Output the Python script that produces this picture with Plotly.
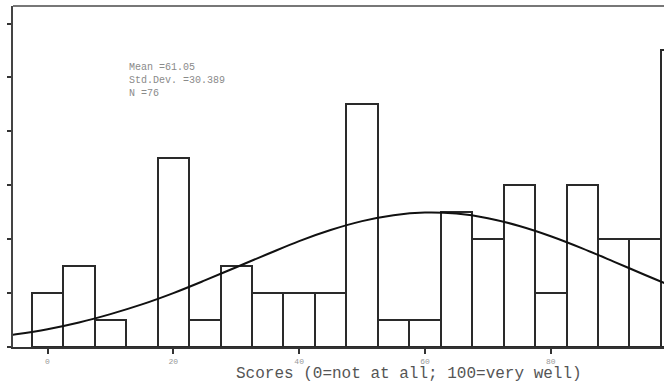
import plotly.graph_objects as go

# Histogram data (bin centres, bin width 5)
bin_centers = [0, 5, 10, 15, 20, 25, 30, 35, 40, 45, 50, 55, 60, 65, 70, 75, 80, 85, 90, 95, 100]
counts = [2, 3, 1, 0, 7, 1, 3, 2, 2, 2, 9, 1, 1, 5, 4, 6, 2, 6, 4, 4, 11]

# Fitted normal curve
curve_x = [-6, -5, 0, 5, 10, 15, 20, 25, 30, 35, 40, 45, 50, 55, 60, 65, 70, 75, 80, 85, 90, 95, 100, 104]
curve_y = [0.44, 0.47, 0.66, 0.91, 1.22, 1.58, 2.00, 2.47, 2.96, 3.45, 3.93, 4.34, 4.67, 4.89, 4.99,
           4.95, 4.78, 4.49, 4.11, 3.66, 3.17, 2.67, 2.19, 1.83]

x_tick_vals = [0, 20, 40, 60, 80]
x_tick_text = ["0", "20", "40", "60", "80"]
y_tick_vals = [0, 2, 4, 6, 8, 10, 12]

stats_lines = ["Mean =61.05", "Std.Dev. =30.389", "N =76"]
x_title = "Scores (0=not at all; 100=very well)"

fig = go.Figure()
fig.add_trace(go.Bar(
    x=bin_centers, y=counts, width=5,
    marker=dict(color="white", line=dict(color="#2a2a2a", width=2)),
    showlegend=False, hoverinfo="skip",
))
fig.add_trace(go.Scatter(
    x=curve_x, y=curve_y, mode="lines",
    line=dict(color="#111111", width=2, shape="spline"),
    showlegend=False, hoverinfo="skip",
))

W, H = 664, 384
ml, mt, mb = 13, 6, 36.5
fig.update_layout(
    width=W, height=H,
    margin=dict(l=ml, r=0, t=mt, b=mb, pad=0),
    paper_bgcolor="white", plot_bgcolor="white",
    bargap=0,
    xaxis=dict(
        range=[-5.49, 98.0], showgrid=False, zeroline=False,
        showline=True, linecolor="#333333", linewidth=2,
        ticks="outside", ticklen=5, tickwidth=2, tickcolor="#333333",
        tickvals=x_tick_vals, ticktext=x_tick_text,
        tickfont=dict(family="Liberation Mono", size=8, color="#999999"),
    ),
    yaxis=dict(
        range=[0, 12.65], showgrid=False, zeroline=False,
        showline=True, linecolor="#444444", linewidth=2,
        ticks="outside", ticklen=4, tickwidth=2, tickcolor="#333333",
        tickvals=y_tick_vals, showticklabels=False,
    ),
    shapes=[dict(type="line", xref="paper", yref="paper", x0=0, x1=1, y0=1, y1=1,
                 line=dict(color="#777777", width=2))],
)

ph = H - mt - mb
pw = W - ml
def py(ypix):
    return (H - mb - ypix) / ph
def px(xpix):
    return (xpix - ml) / pw

fig.add_annotation(text="<br>".join(stats_lines), xref="paper", yref="paper",
                   x=px(127), y=py(81), xanchor="left", yanchor="middle", align="left",
                   showarrow=False,
                   font=dict(family="Liberation Mono", size=10, color="#8a8a8a"))

fig.add_annotation(text=x_title, xref="paper", yref="paper", x=px(409), y=py(375),
                   xanchor="center", yanchor="middle", showarrow=False,
                   font=dict(family="Liberation Mono", size=16, color="#555555"))

fig.write_html("out.html", config={"displayModeBar": False},
               post_script="document.body.style.margin='0';document.body.style.padding='0';")
